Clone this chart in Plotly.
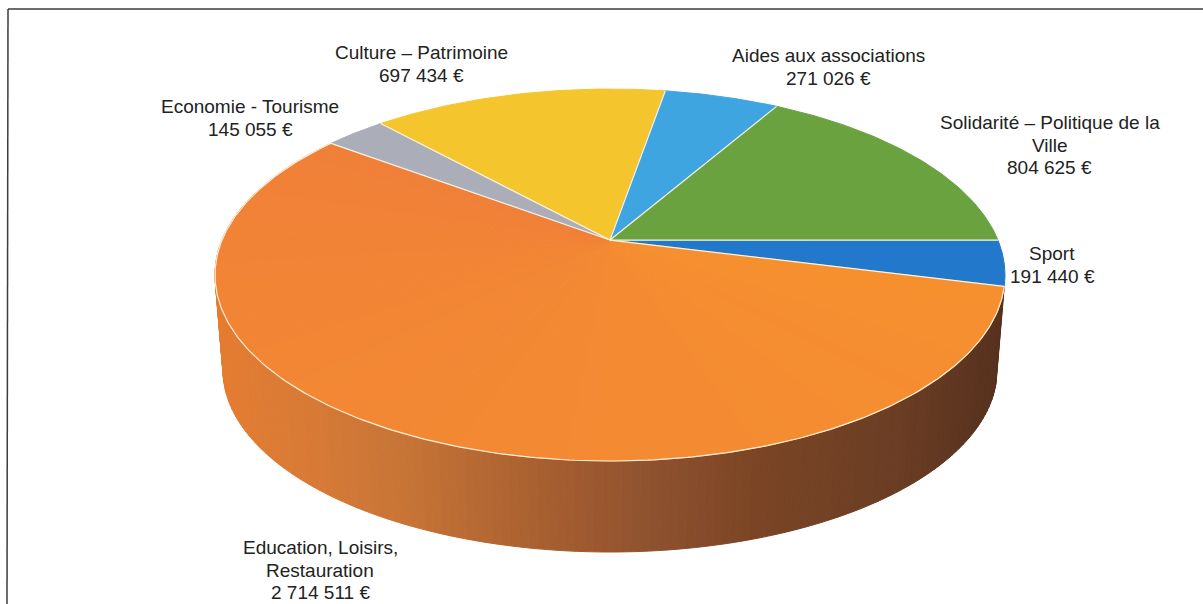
import numpy as np
import plotly.graph_objects as go

# ---- data ----
categories = ["Sport", "Education, Loisirs,<br>Restauration", "Economie - Tourisme",
              "Culture – Patrimoine", "Aides aux associations",
              "Solidarité – Politique de la<br>Ville"]
values = [191440, 2714511, 145055, 697434, 271026, 804625]
colors = ["#2279CB", "#F38A35", "#ABADB8", "#F5C52D", "#3FA5E1", "#69A23F"]
label_x = [1052, 320, 250, 421.5, 828.5, 1049.5]
label_y = [265, 570, 118, 64, 67, 145]

# ---- projection of the tilted disc ----
CX, TOP_CY, TOP_RX, TOP_RY = 610, 275, 395, 186
BOT_CY, BOT_RX, BOT_RY = 370, 387, 182
TILT = -0.188
LINE_GAP = 22.3


def project(theta, cy, rx, ry):
    u, v = np.cos(theta), np.sin(theta)
    d = 1 + TILT * v
    return CX + rx * u * np.sqrt(1 - TILT ** 2) / d, cy + ry * (v + TILT) / d


def centre():
    return CX, TOP_CY + TOP_RY * TILT


def mix(c1, c2, t):
    a = [int(c1[i:i + 2], 16) for i in (1, 3, 5)]
    b = [int(c2[i:i + 2], 16) for i in (1, 3, 5)]
    return "#" + "".join(f"{round(p + (q - p) * t):02x}" for p, q in zip(a, b))


fig = go.Figure()
frac = np.array(values) / sum(values)
edges = np.concatenate([[0], np.cumsum(frac)]) * 2 * np.pi


def poly(xs, ys, col):
    fig.add_trace(go.Scatter(x=xs, y=ys, mode="lines", fill="toself", fillcolor=col,
                             line=dict(color=col, width=1), hoverinfo="skip", showlegend=False))


# wall of the large slice, shaded along its width
wall_stops = [(216, "#E57C30"), (300, "#D97B36"), (400, "#C87536"), (550, "#A65E30"),
              (650, "#8F5230"), (750, "#7C4525"), (900, "#6A3D24"), (1005, "#55301C")]
wall_edges = np.linspace(edges[1], np.radians(196), 160)
for t0, t1 in zip(wall_edges[:-1], wall_edges[1:]):
    tt = np.array([t0, t1])
    xt, yt = project(tt, TOP_CY, TOP_RX, TOP_RY)
    xb, yb = project(tt, BOT_CY, BOT_RX, BOT_RY)
    xm = (xt.mean() + xb.mean()) / 2
    sx = [s[0] for s in wall_stops]
    k = min(np.searchsorted(sx, xm), len(sx) - 1)
    k = max(k, 1)
    f = (xm - sx[k - 1]) / (sx[k] - sx[k - 1])
    poly([xt[0], xt[1], xb[1], xb[0], xt[0]], [yt[0], yt[1], yb[1], yb[0], yt[0]],
         mix(wall_stops[k - 1][1], wall_stops[k][1], float(np.clip(f, 0, 1))))

cx0, cy0 = centre()

# top faces
for i, (a, b) in enumerate(zip(edges[:-1], edges[1:])):
    if i == 1:  # the large slice drifts from yellow-orange to red-orange
        sub = np.linspace(a, b, 61)
        for s0, s1 in zip(sub[:-1], sub[1:]):
            t = np.linspace(s0, s1, 4)
            x, y = project(t, TOP_CY, TOP_RX, TOP_RY)
            m = (0.5 * (s0 + s1) - a) / (b - a)
            poly(np.r_[cx0, x, cx0], np.r_[cy0, y, cy0], mix("#F6902F", "#F08038", float(m)))
    else:
        t = np.linspace(a, b, 80)
        x, y = project(t, TOP_CY, TOP_RX, TOP_RY)
        poly(np.r_[cx0, x, cx0], np.r_[cy0, y, cy0], colors[i])

# pale separators and rim
for a in edges[:-1]:
    x, y = project(np.array([a]), TOP_CY, TOP_RX, TOP_RY)
    fig.add_trace(go.Scatter(x=[cx0, x[0]], y=[cy0, y[0]], mode="lines",
                             line=dict(color="#FBF3E4", width=1.2), hoverinfo="skip", showlegend=False))
t = np.linspace(edges[1], edges[2], 300)
x, y = project(t, TOP_CY, TOP_RX, TOP_RY)
fig.add_trace(go.Scatter(x=x, y=y, mode="lines", line=dict(color="#FDEFD8", width=1.2),
                         hoverinfo="skip", showlegend=False))

# labels: one annotation per line so the line spacing stays tight
annotations = []
for name, v, lx, ly in zip(categories, values, label_x, label_y):
    amount = f"{v:,}".replace(",", "\u00a0") + "\u00a0€"
    lines = name.split("<br>") + [amount]
    for j, line in enumerate(lines):
        annotations.append(dict(x=lx, y=ly + (j - (len(lines) - 1) / 2) * LINE_GAP, xref="x", yref="y",
                                text=line, showarrow=False, xanchor="center", yanchor="middle", align="center",
                                font=dict(family="Liberation Sans", size=19, color="#222222")))

frame = dict(type="line", xref="x", yref="y", line=dict(color="#3C3C3C", width=1.5))
fig.update_layout(
    width=1203, height=604, margin=dict(l=0, r=0, t=0, b=0, pad=0),
    paper_bgcolor="white", plot_bgcolor="white", showlegend=False,
    xaxis=dict(range=[0, 1203], visible=False, fixedrange=True),
    yaxis=dict(range=[604, 0], visible=False, fixedrange=True),
    annotations=annotations,
    shapes=[dict(frame, x0=8, y0=9, x1=1203, y1=9),
            dict(frame, x0=8, y0=9, x1=7, y1=604)],
)
fig.write_html("out.html", config=dict(displayModeBar=False),
               post_script="document.body.style.margin='0';document.body.style.overflow='hidden';")
